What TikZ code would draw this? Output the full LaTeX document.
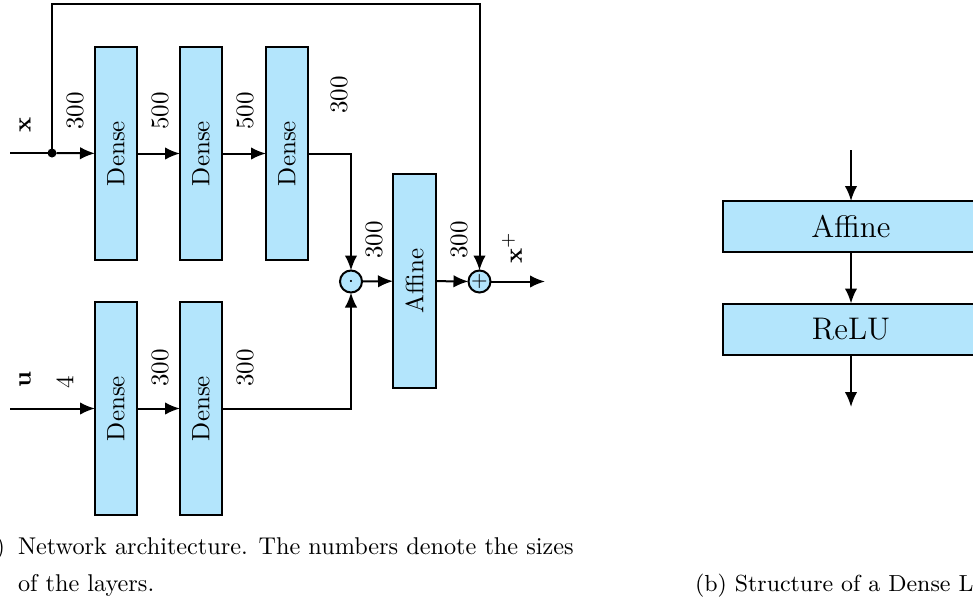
\documentclass[tikz,border=0pt]{standalone}
\usetikzlibrary{arrows.meta}
\definecolor{boxblue}{RGB}{179,229,252}
\begin{document}
\begin{tikzpicture}[x=0.4pt,y=-0.4pt,
  every node/.style={inner sep=0pt,outer sep=0pt},
  wire/.style={line width=0.8pt},
  arr/.style={wire,-{Latex[length=6pt,width=5pt]}},
  layer/.style={draw,fill=boxblue,line width=0.8pt,minimum width=16.8pt,minimum height=85.2pt},
  hlayer/.style={draw,fill=boxblue,line width=0.8pt,minimum width=102.8pt,minimum height=20.4pt,font=\fontsize{12.5}{15}\selectfont},
  opcirc/.style={draw,fill=boxblue,circle,line width=0.8pt,minimum size=8.8pt,font=\footnotesize},
  lbl/.style={rotate=90},
  captext/.style={anchor=base west,font=\fontsize{9.7}{12}\selectfont}]
\useasboundingbox (0,0) rectangle (973,608);
\clip (0,0) rectangle (973,608);
% upper branch
\node[layer] (d1) at (116,153.5) {\rotatebox{90}{Dense}};
\node[layer] (d2) at (201,153.5) {\rotatebox{90}{Dense}};
\node[layer] (d3) at (287,153.5) {\rotatebox{90}{Dense}};
% lower branch
\node[layer] (e1) at (116,408.5) {\rotatebox{90}{Dense}};
\node[layer] (e2) at (201,408.5) {\rotatebox{90}{Dense}};
% combine
\node[opcirc] (mul) at (351,281.5) {$\cdot$};
\node[layer,minimum width=17.2pt,minimum height=85.6pt] (aff) at (414.5,281) {\rotatebox{90}{Affine}};
\node[opcirc] (add) at (479.5,281.5) {$+$};
\node[circle,fill,minimum size=3.6pt] (dot) at (52,153) {};
\coordinate (xin) at (10,153);
\coordinate (uin) at (10,408.5);
\coordinate (ttop) at (479.5,4);
\coordinate (out) at (545,281.5);
\draw[wire] (xin) -- (dot);
\draw[arr] (dot) -- (d1);
\draw[arr] (d1) -- (d2);
\draw[arr] (d2) -- (d3);
\draw[arr] (dot) |- (ttop) -- (add);
\draw[arr] (d3.east) -| (mul);
\draw[arr] (uin) -- (e1);
\draw[arr] (e1) -- (e2);
\draw[arr] (e2.east) -| (mul);
\draw[arr] (mul) -- (aff);
\draw[arr] (aff) -- (add);
\draw[arr] (add) -- (out);
% labels
\node[lbl] (lx) at (25,125) {$\mathbf{x}$};
\node[lbl] (l1) at (75,111) {300};
\node[lbl] (l2) at (160,111) {500};
\node[lbl] (l3) at (245,111) {500};
\node[lbl] (l4) at (339,95) {300};
\node[lbl] (l5) at (374,240) {300};
\node[lbl] (l6) at (459,240) {300};
\node[lbl] (lxp) at (512,248) {$\mathbf{x}^{+}$};
\node[lbl] (lu) at (25,380) {$\mathbf{u}$};
\node[lbl] (l7) at (65,382) {4};
\node[lbl] (l8) at (160,368) {300};
\node[lbl] (l9) at (245,368) {300};
% dense layer structure
\node[hlayer] (ra) at (851,226.5) {Affine};
\node[hlayer] (rr) at (851,329) {ReLU};
\coordinate (rin) at (851,150);
\coordinate (rout) at (851,407);
\draw[arr] (rin) -- (ra);
\draw[arr] (ra) -- (rr);
\draw[arr] (rr) -- (rout);
% captions
\node[captext,anchor=base east] (capa) at (5,554) {(a)};
\node[captext] (capa1) at (18,554) {Network architecture. The numbers denote the sizes};
\node[captext] (capa2) at (18,591) {of the layers.};
\node[captext,font=\fontsize{9.3}{12}\selectfont] (capb) at (695,591) {(b) Structure of a Dense La};
\end{tikzpicture}
\end{document}
